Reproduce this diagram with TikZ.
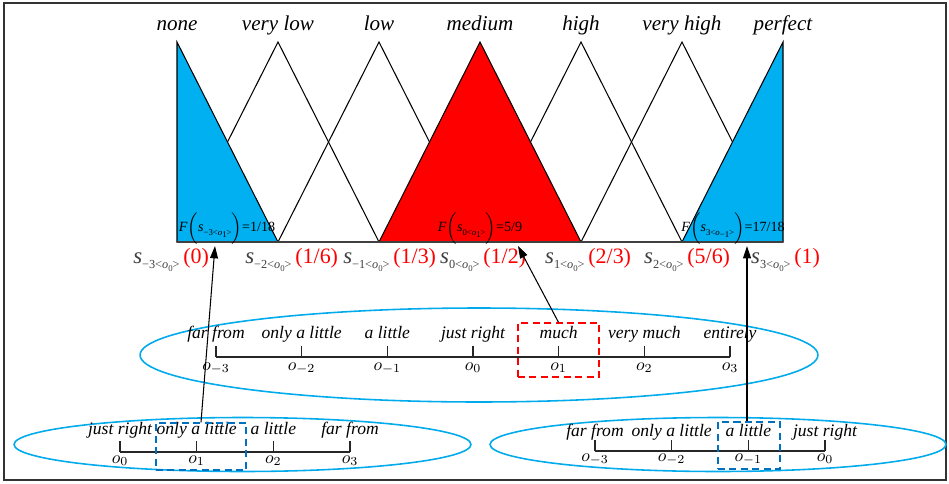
\documentclass[tikz,border=0pt]{standalone}
\usepackage{fontspec}
\setmainfont{Liberation Serif}
\usetikzlibrary{arrows.meta}
\definecolor{skyfill}{RGB}{0,176,240}
\definecolor{ringblue}{RGB}{0,170,235}
\definecolor{boxblue}{RGB}{0,112,192}
% s with index <o_j>: size of index, index, j
\newcommand{\sname}[3]{\textit{s}\raisebox{-0.55ex}{#1#2<\textit{o}\raisebox{-0.45ex}{\tiny #3}>}}

\begin{document}
\begin{tikzpicture}[
		x=0.02cm, y=-0.02cm,
		term/.style={font=\large\itshape, anchor=base},
		ling/.style={font=\itshape, anchor=base, inner sep=1pt},
		oname/.style={anchor=base, inner sep=1pt},
		memb/.style={draw=black, line width=0.6pt},
		ring/.style={draw=ringblue, line width=0.9pt},
		axis/.style={line width=0.7pt, black!85},
		flab/.style={font=\footnotesize, inner sep=0pt},
		slab/.style={font=\fontsize{13}{14}\selectfont, text=black!75, inner sep=0pt, anchor=base east},
		vlab/.style={font=\fontsize{12.5}{13}\selectfont, text=red, inner sep=0pt, anchor=base west},
		redbox/.style={draw=red, dash pattern=on 4pt off 2.5pt, line width=0.8pt},
		bluebox/.style={draw=boxblue, dash pattern=on 4pt off 2.5pt, line width=0.8pt},
		arrow/.style={line width=0.6pt, ->, >={Triangle[length=7pt,width=4.5pt]}}
		]
		
		\useasboundingbox (0,0) rectangle (949,483);
		\draw[line width=0.9pt, black!80] (4,3) rectangle (946,480);
		
		% membership functions
		\foreach \k in {-2,-1,1,2}
			\draw[memb] ({480+101*(\k-1)},242) -- ({480+101*\k},42) -- ({480+101*(\k+1)},242);
		\filldraw[memb, fill=skyfill] (177,242) -- (177,42) -- (278,242) -- cycle;
		\filldraw[memb, fill=red] (379,242) -- (480,42) -- (581,242) -- cycle;
		\filldraw[memb, fill=skyfill] (682,242) -- (783,42) -- (783,242) -- cycle;
		\draw[line width=1.3pt, black!75] (177,242) -- (783,242);
		
		\foreach \k/\t in {-3/none, -2/very low, -1/low, 0/medium, 1/high, 2/very high, 3/perfect}
			\node[term] (t\k) at ({480+101*\k},31) {\t};
		
		\node[flab] (fneg) at (227,228) {\textit{F}$\Bigl($\sname{\tiny}{−3}{1}$\Bigr)$=1/18};
		\node[flab] (fmid) at (480,228) {\textit{F}$\Bigl($\sname{\tiny}{0}{1}$\Bigr)$=5/9};
		\node[flab] (fpos) at (733,228) {\textit{F}$\Bigl($\sname{\tiny}{3}{−1}$\Bigr)$=17/18};
		
		\foreach \k/\m/\x/\v in {-3/−3/181/{(0)}, -2/−2/293/{(1/6)}, -1/−1/391/{(1/3)}, 0/0/481/{(1/2)}, 1/1/586/{(2/3)}, 2/2/685/{(5/6)}, 3/3/792/{(1)}} {
			\node[slab] (s\k) at (\x-1,263) {\sname{\scriptsize}{\m}{0}};
			\node[vlab] (v\k) at (\x+2,263) {\v};
		}
		
		% middle scale
		\draw[ring] (479,355) ellipse [x radius=6.78cm, y radius=0.94cm];
		\draw[axis] (216,357) -- (730,357);
		\foreach \i/\t in {-3/far from, -2/only a little, -1/a little, 0/just right, 1/much, 2/very much, 3/entirely} {
			\draw[axis] ({473+85.67*\i},357) -- ({473+85.67*\i},346);
			\node[ling] (m\i) at ({473+85.67*\i},338) {\t};
			\node[oname] (mo\i) at ({473+85.67*\i},370) {$o_{\i}$};
		}
		\node[redbox, minimum width=1.62cm, minimum height=1.08cm] (muchbox) at (558.5,350) {};
		
		% left scale
		\draw[ring] (242.5,444.5) ellipse [x radius=4.57cm, y radius=0.54cm];
		\draw[axis] (120,452) -- (350,452);
		\foreach \i/\t in {0/just right, 1/only a little, 2/a little, 3/far from} {
			\draw[axis] ({120+76.67*\i},452) -- ({120+76.67*\i},441);
			\node[ling] (l\i) at ({120+76.67*\i},434) {\t};
			\node[oname] (lo\i) at ({120+76.67*\i},463) {$o_{\i}$};
		}
		\node[bluebox, minimum width=1.8cm, minimum height=0.94cm] (leftbox) at (201,446.5) {};
		
		% right scale
		\draw[ring] (718,444.5) ellipse [x radius=4.56cm, y radius=0.54cm];
		\draw[axis] (595,451) -- (825,451);
		\foreach \i/\t in {-3/far from, -2/only a little, -1/a little, 0/just right} {
			\draw[axis] ({825+76.67*\i},451) -- ({825+76.67*\i},440);
			\node[ling] (r\i) at ({825+76.67*\i},436) {\t};
			\node[oname] (ro\i) at ({825+76.67*\i},461) {$o_{\i}$};
		}
		\node[bluebox, minimum width=1.24cm, minimum height=0.94cm] (rightbox) at (749,445.5) {};
		
		\coordinate (pl) at (215,246);
		\coordinate (pm) at (518,246);
		\coordinate (pr) at (747,246);
		\draw[arrow] (leftbox.north) -- (pl);
		\draw[arrow] (muchbox.north) -- (pm);
		\draw[arrow] (pr |- rightbox.north) -- (pr);
	\end{tikzpicture}
\end{document}
